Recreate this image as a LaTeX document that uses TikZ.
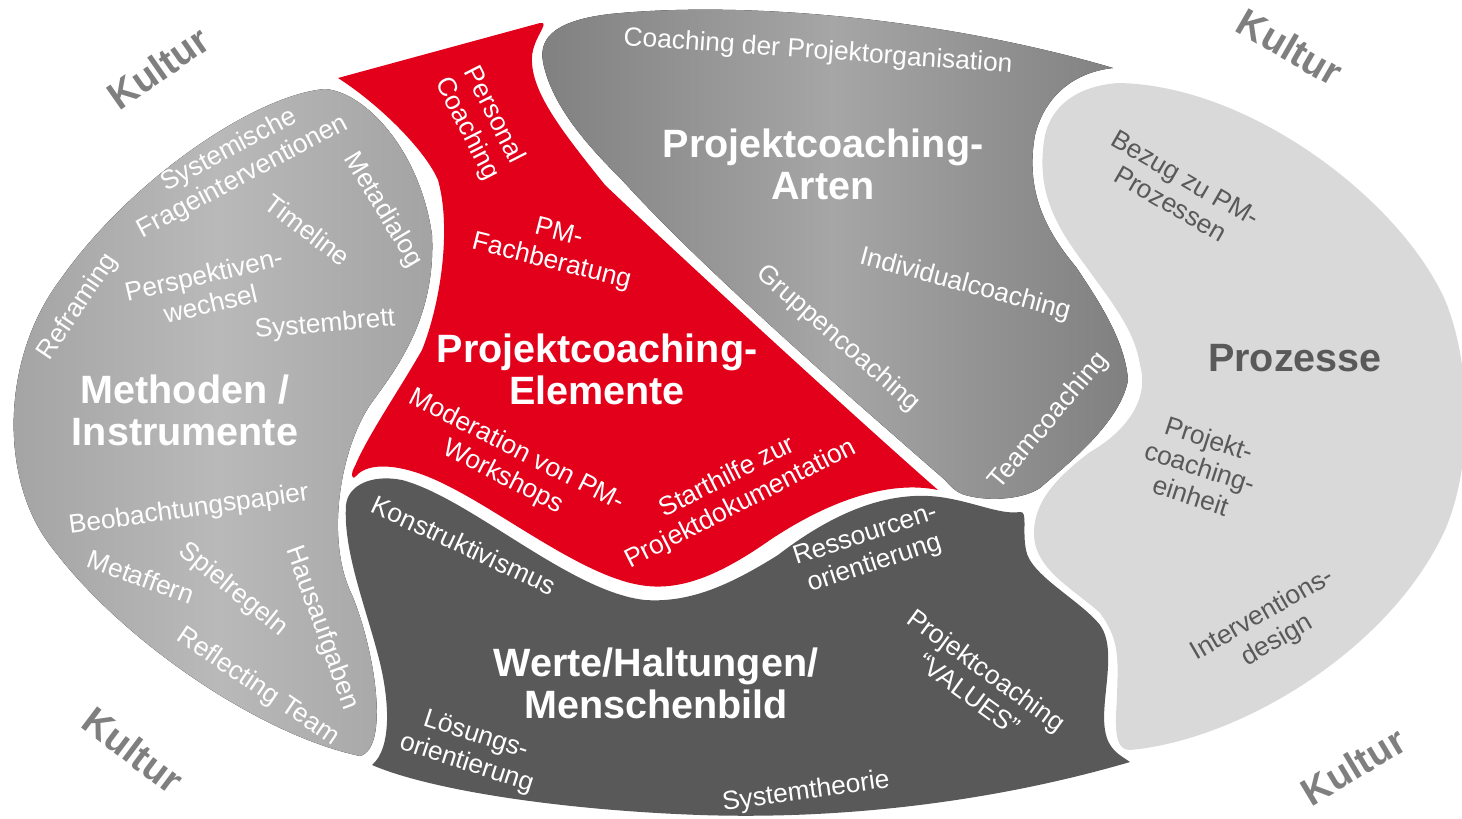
\documentclass[tikz,border=0pt]{standalone}
\usepackage{fontspec}
\setmainfont{Liberation Sans}
\usepackage{xcolor}
\usepackage{tikz}

\definecolor{pcred}{HTML}{E2001A}
\definecolor{methgray}{HTML}{A3A3A3}
\definecolor{methlight}{HTML}{B9B9B9}
\definecolor{artgray}{HTML}{808080}
\definecolor{artlight}{HTML}{A6A6A6}
\definecolor{procgray}{HTML}{D9D9D9}
\definecolor{wertgray}{HTML}{595959}
\definecolor{kulturgray}{HTML}{7F7F7F}

\begin{document}
\begin{tikzpicture}[x=0.02cm, y=-0.02cm,
  labeltxt/.style={text=white, font=\fontsize{15}{17}\selectfont, align=center, inner sep=0pt},
  headtxt/.style={text=white, font=\bfseries\fontsize{22.5}{24}\selectfont, align=center, inner sep=0pt},
  proctxt/.style={text=wertgray},
  kultur/.style={text=kulturgray, font=\bfseries\fontsize{22}{24}\selectfont, inner sep=0pt}]
\useasboundingbox (0,0) rectangle (1462,818);

% Methoden / Instrumente
\fill[left color=methgray, right color=methgray, middle color=methlight]
  (325,89) .. controls (365,92) and (420,150) .. (432,235)
  .. controls (436,320) and (395,370) .. (370,405)
  .. controls (340,450) and (325,540) .. (352,595)
  .. controls (375,650) and (390,748) .. (360,756)
  .. controls (260,735) and (120,640) .. (50,545)
  .. controls (0,480) and (0,360) .. (60,280)
  .. controls (130,180) and (255,95) .. (325,89) -- cycle;

% Projektcoaching-Arten
\fill[left color=artgray, right color=artgray, middle color=artlight]
  (543,62) .. controls (538,35) and (560,20) .. (610,14)
  .. controls (750,0) and (950,20) .. (1113,68)
  .. controls (1075,72) and (1045,95) .. (1035,135)
  .. controls (1025,190) and (1045,230) .. (1076,267)
  .. controls (1098,300) and (1125,340) .. (1128,380)
  .. controls (1120,425) and (1060,470) .. (1040,488)
  .. controls (1022,500) and (985,502) .. (962,494)
  .. controls (955,491) and (950,486) .. (945,480)
  .. controls (865,410) and (705,272) .. (622,180)
  .. controls (592,150) and (552,108) .. (543,62) -- cycle;

% Prozesse
\fill[procgray]
  (1118,83) .. controls (1250,85) and (1400,200) .. (1445,300)
  .. controls (1470,360) and (1475,460) .. (1445,530)
  .. controls (1390,650) and (1240,740) .. (1130,750)
  .. controls (1112,750) and (1116,720) .. (1117,695)
  .. controls (1118,660) and (1120,640) .. (1100,613)
  .. controls (1075,590) and (1035,570) .. (1034,535)
  .. controls (1033,500) and (1060,475) .. (1090,452)
  .. controls (1125,432) and (1150,400) .. (1140,365)
  .. controls (1135,330) and (1110,300) .. (1085,265)
  .. controls (1055,225) and (1035,190) .. (1045,135)
  .. controls (1052,105) and (1078,86) .. (1118,83) -- cycle;

% Werte/Haltungen/Menschenbild
\fill[wertgray]
  (346,505) .. controls (348,485) and (372,474) .. (402,480)
  .. controls (470,498) and (570,592) .. (645,600)
  .. controls (690,603) and (730,585) .. (778,555)
  .. controls (830,515) and (885,490) .. (940,497)
  .. controls (975,502) and (1000,515) .. (1020,512)
  .. controls (1028,511) and (1022,530) .. (1026,550)
  .. controls (1030,575) and (1080,600) .. (1100,625)
  .. controls (1118,650) and (1100,700) .. (1105,730)
  .. controls (1108,750) and (1120,755) .. (1130,762)
  .. controls (1000,800) and (850,820) .. (700,815)
  .. controls (560,810) and (430,790) .. (372,765)
  .. controls (392,748) and (390,700) .. (378,655)
  .. controls (365,605) and (343,550) .. (346,505) -- cycle;

% Projektcoaching-Elemente
\fill[pcred]
  (338,78) -- (540,23)
  .. controls (552,21) and (530,40) .. (532,62)
  .. controls (533,95) and (565,135) .. (605,185)
  .. controls (705,280) and (875,435) .. (938,490)
  .. controls (890,480) and (830,500) .. (770,540)
  .. controls (720,575) and (680,592) .. (640,585)
  .. controls (580,575) and (500,510) .. (440,482)
  .. controls (400,463) and (368,462) .. (356,476)
  .. controls (352,481) and (350,474) .. (355,466)
  .. controls (368,435) and (398,392) .. (422,350)
  .. controls (440,305) and (452,230) .. (438,180)
  .. controls (425,150) and (380,105) .. (338,78) -- cycle;

% Kultur
\node[kultur, rotate=35] (kulturNW) at (158,68) {Kultur};
\node[kultur, rotate=-30] (kulturNE) at (1290,47) {Kultur};
\node[kultur, rotate=-37] (kulturSW) at (133,750) {Kultur};
\node[kultur, rotate=31] (kulturSE) at (1353,766) {Kultur};

% Methoden
\node[labeltxt, rotate=28] (fragen) at (236,164) {Systemische\\Frageinterventionen};
\node[labeltxt, rotate=-59] (metadialog) at (383,210) {Metadialog};
\node[labeltxt, rotate=-37] (timeline) at (308,230) {Timeline};
\node[labeltxt, rotate=56] (reframing) at (78,307) {Reframing};
\node[labeltxt, rotate=13] (perspektive) at (207,289) {Perspektiven-\\wechsel};
\node[labeltxt, rotate=5] (systembrett) at (325,325) {Systembrett};
\node[headtxt] (methoden) at (185,410) {Methoden /\\Instrumente};
\node[labeltxt, rotate=8] (beobachtung) at (189,510) {Beobachtungspapier};
\node[labeltxt, rotate=-20] (metaffern) at (141,577) {Metaffern};
\node[labeltxt, rotate=-39] (spielregeln) at (233,590) {Spielregeln};
\node[labeltxt, rotate=-70] (hausaufgaben) at (322,628) {Hausaufgaben};
\node[labeltxt, rotate=-34] (reflecting) at (258,687) {Reflecting Team};

% Elemente
\node[labeltxt, rotate=-63] (personal) at (480,122) {Personal\\Coaching};
\node[labeltxt, rotate=-14] (fachberatung) at (555,248) {PM-\\Fachberatung};
\node[headtxt] (elemente) at (597,369) {Projektcoaching-\\Elemente};
\node[labeltxt, rotate=-27] (moderation) at (510,464) {Moderation von PM-\\Workshops};
\node[labeltxt, rotate=27] (starthilfe) at (734,491) {Starthilfe zur\\Projektdokumentation};

% Arten
\node[labeltxt, rotate=-4] (organisation) at (818,52) {Coaching der Projektorganisation};
\node[headtxt] (arten) at (823,164) {Projektcoaching-\\Arten};
\node[labeltxt, rotate=-15] (individual) at (965,285) {Individualcoaching};
\node[labeltxt, rotate=-41] (gruppe) at (838,339) {Gruppencoaching};
\node[labeltxt, rotate=50] (team) at (1049,421) {Teamcoaching};

% Prozesse
\node[labeltxt, proctxt, rotate=-30] (bezug) at (1178,191) {Bezug zu PM-\\Prozessen};
\node[headtxt, proctxt] (prozesse) at (1295,358) {Prozesse};
\node[labeltxt, proctxt, rotate=-18] (einheit) at (1200,467) {Projekt-\\coaching-\\einheit};
\node[labeltxt, proctxt, rotate=30] (design) at (1270,628) {Interventions-\\design};

% Werte
\node[labeltxt, rotate=-25] (konstrukt) at (464,545) {Konstruktivismus};
\node[labeltxt, rotate=18] (ressourcen) at (870,550) {Ressourcen-\\orientierung};
\node[headtxt] (werte) at (656,683) {Werte/Haltungen/\\Menschenbild};
\node[labeltxt, rotate=-36] (values) at (978,682) {Projektcoaching\\“VALUES”};
\node[labeltxt, rotate=-18] (loesung) at (471,750) {Lösungs-\\orientierung};
\node[labeltxt, rotate=8] (theorie) at (806,792) {Systemtheorie};
\end{tikzpicture}
\end{document}
